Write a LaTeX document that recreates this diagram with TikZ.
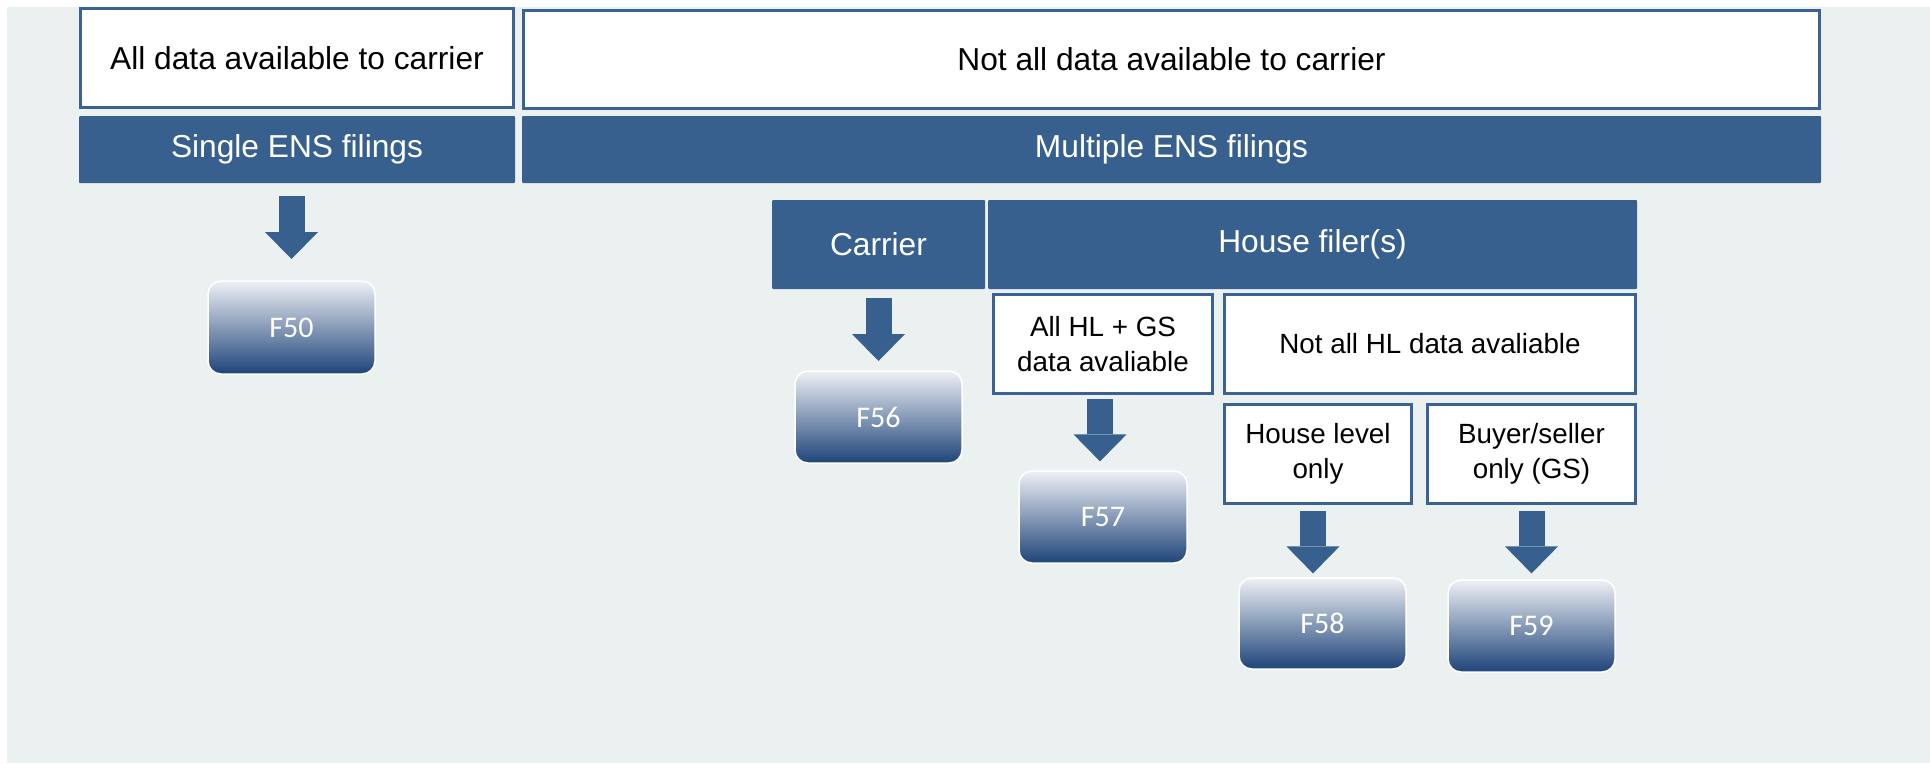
\documentclass[tikz,border=0pt]{standalone}
\usepackage{fontspec}
\setmainfont{Liberation Sans}
\newfontfamily\calib{Carlito}
\usetikzlibrary{arrows.meta,calc}
\definecolor{bg}{HTML}{EBF1F1}
\definecolor{navy}{HTML}{37608F}
\definecolor{edge}{HTML}{3A6296}
\definecolor{ftop}{HTML}{EEF0F5}
\definecolor{fbot}{HTML}{1E4479}
\tikzset{
  wbox/.style={draw=edge, line width=3.2pt, fill=white, inner sep=0pt, outer sep=0pt,
    align=center, text=black, font=\fontsize{27.8}{34.5}\selectfont},
  topbox/.style={wbox, font=\fontsize{31.7}{38}\selectfont},
  strip/.style={fill=navy, inner sep=0pt, outer sep=0pt, rounded corners=1pt,
    align=center, text=white, font=\fontsize{31.7}{38}\selectfont},
  fbox/.style={draw=white, line width=1.5pt, rounded corners=13pt, top color=ftop,
    bottom color=fbot, inner sep=0pt, outer sep=0pt, text=white,
    font=\calib\fontsize{30}{36}\selectfont},
  blk/.style={draw=navy, line width=26pt,
    -{Triangle[width=53pt,length=27pt,line width=0pt]}}
}
\begin{document}
\begin{tikzpicture}[x=1pt,y=-1pt]
\useasboundingbox (0,0) rectangle (1930,763);
\fill[bg] (7,7) rectangle (1930,763);

\node[topbox, minimum width=432.8pt, minimum height=98.8pt] (alld) at (297,58) {All data available to carrier};
\node[topbox, minimum width=1295.8pt, minimum height=97.8pt] (notall) at (1171.5,59.5) {Not all data available to carrier};
\node[strip, minimum width=436pt, minimum height=67pt] (single) at (297,149.5) {Single ENS filings};
\node[strip, minimum width=1299pt, minimum height=67pt] (multi) at (1171.5,149.5) {Multiple ENS filings};
\node[strip, minimum width=213pt, minimum height=89pt] (carrier) at (878.5,244.5) {Carrier};
\node[strip, minimum width=649pt, minimum height=89pt] (house) at (1312.5,244.5) {House filer(s)};
\node[wbox, minimum width=218.8pt, minimum height=98.8pt] (allhl) at (1103,344) {All HL + GS\\data avaliable};
\node[wbox, minimum width=410.8pt, minimum height=98.8pt] (notallhl) at (1430,344) {Not all HL data avaliable};
\node[wbox, minimum width=186.8pt, minimum height=98.8pt] (hlonly) at (1318,454) {House level\\only};
\node[wbox, minimum width=207.8pt, minimum height=98.8pt] (gsonly) at (1531.5,454) {Buyer/seller\\only (GS)};

\node[fbox, minimum width=167pt, minimum height=93pt] (f50) at (291.5,327.5) {F50};
\node[fbox, minimum width=167pt, minimum height=92pt] (f56) at (878.5,417) {F56};
\node[fbox, minimum width=168pt, minimum height=92pt] (f57) at (1103,517) {F57};
\node[fbox, minimum width=167pt, minimum height=91pt] (f58) at (1322.5,623.5) {F58};
\node[fbox, minimum width=167pt, minimum height=92pt] (f59) at (1531.5,626) {F59};

\draw[blk] ($(single.south)+(-5.5,13)$) -- ($(single.south)+(-5.5,76)$);
\draw[blk] ($(carrier.south)+(0,9)$) -- ($(carrier.south)+(0,72)$);
\draw[blk] ($(allhl.south)+(-3,6)$) -- ($(allhl.south)+(-3,68)$);
\draw[blk] ($(hlonly.south)+(-5,8)$) -- ($(hlonly.south)+(-5,70)$);
\draw[blk] ($(gsonly.south)+(0,8)$) -- ($(gsonly.south)+(0,70)$);
\end{tikzpicture}
\end{document}
